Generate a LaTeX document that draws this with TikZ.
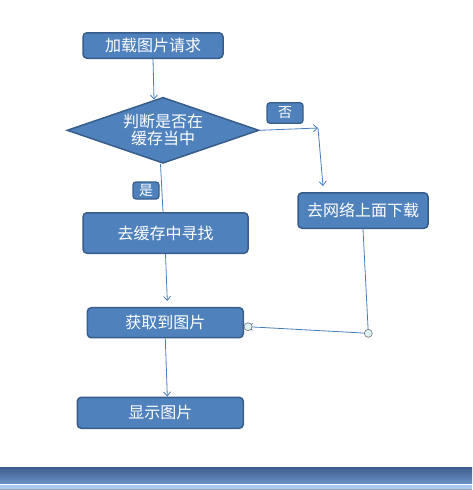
\documentclass[tikz,border=0pt]{standalone}
\usepackage{fontspec}
\newfontfamily\cjk{Noto Sans CJK SC}
\usetikzlibrary{shapes.geometric,arrows.meta}
\definecolor{boxfill}{HTML}{4F81BD}
\definecolor{boxline}{HTML}{385D8A}
\definecolor{conncol}{HTML}{4A7EBB}
\definecolor{bandtop}{HTML}{3F5E8C}
\definecolor{bandbot}{HTML}{6A91C9}
\definecolor{bandlight}{HTML}{A9C9F2}
\definecolor{dotfill}{HTML}{DDF2F3}
\tikzset{
  flowbox/.style={draw=boxline, fill=boxfill, line width=1.5pt, rounded corners=4pt,
    text=white, font=\cjk\fontsize{16}{17}\selectfont, inner sep=0pt, align=center},
  tagbox/.style={draw=boxline, fill=boxfill, line width=1.3pt, rounded corners=3pt,
    text=white, font=\cjk\fontsize{14}{15}\selectfont, inner sep=0pt},
  decide/.style={diamond, draw=boxline, fill=boxfill, line width=1.5pt, aspect=2.9,
    text=white, font=\cjk\fontsize{16}{17}\selectfont, inner sep=0pt, align=center},
  conn/.style={draw=conncol, line width=0.8pt},
  arr/.style={conn, -{Straight Barb[length=4pt,width=7pt]}},
  dot/.style={circle, draw=gray, fill=dotfill, line width=0.7pt, minimum size=8pt, inner sep=0pt}
}
\begin{document}
\begin{tikzpicture}[x=1pt,y=-1pt]
\useasboundingbox (0,0) rectangle (472,490);
% bottom band
\shade[top color=bandtop, bottom color=bandbot] (0,467.5) rectangle (472,483.5);
\fill[white] (0,483.5) rectangle (472,484.7);
\fill[bandlight] (0,484.7) rectangle (472,489.2);
\fill[gray!70] (0,489.2) rectangle (472,490);
% nodes
\node[flowbox, minimum width=140pt, minimum height=25.5pt] (load) at (153,45.5) {加载图片请求};
\node[decide, minimum width=192pt, minimum height=66pt] (dia) at (163,130.3) {判断是否在\\缓存当中};
\node[tagbox, minimum width=36pt, minimum height=20.5pt] (no) at (285,113) {否};
\node[tagbox, minimum width=26pt, minimum height=17pt] (yes) at (146,190.5) {是};
\node[flowbox, minimum width=130pt, minimum height=35.5pt] (net) at (363,210.5) {去网络上面下载};
\node[flowbox, minimum width=165pt, minimum height=40.5pt] (cache) at (165.5,233) {去缓存中寻找};
\node[flowbox, minimum width=156pt, minimum height=30pt] (get) at (165.3,322.7) {获取到图片};
\node[flowbox, minimum width=166pt, minimum height=31pt] (show) at (160.3,412.8) {显示图片};
\coordinate (c1) at (318,128);
\coordinate (c2) at (368.3,333.3);
\coordinate (c3) at ([xshift=4pt,yshift=-4pt]get.east);
% connectors
\draw[arr] (load.south) -- ([xshift=-9pt,yshift=-3pt]dia.north);
\draw[arr] (dia.east) -- (c1);
\draw[arr] (c1) -- ([xshift=-40pt,yshift=6pt]net.north);
\draw[conn] ([xshift=-2.5pt]dia.south) -- ([xshift=-2.5pt]cache.north);
\draw[arr] (cache.south) -- ([xshift=2pt,yshift=6pt]get.north);
\draw[arr] (get.south) -- ([xshift=7pt]show.north);
\draw[conn] (net.south) -- (c2);
\draw[arr] (c2) -- (c3);
\node[dot] (d1) at (c2) {};
\node[dot] (d2) at (c3) {};
\end{tikzpicture}
\end{document}
